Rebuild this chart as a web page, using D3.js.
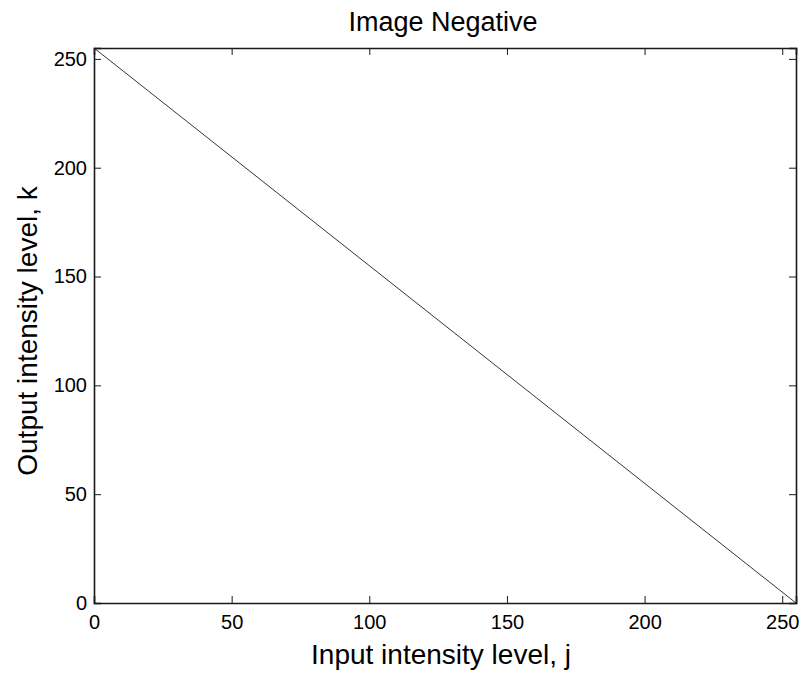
<!DOCTYPE html>
<html><head><meta charset="utf-8">
<script src="https://cdn.jsdelivr.net/npm/d3@7"></script>
<style>body{margin:0;background:#fff}svg{display:block}text{font-family:"Liberation Sans",Arial,sans-serif;fill:#000}</style>
</head><body>
<svg id="c" width="803" height="673"></svg>
<script>
const inputLevels = [0, 255];
const outputLevels = [255, 0];
const xTicks = [0, 50, 100, 150, 200, 250];
const yTicks = [0, 50, 100, 150, 200, 250];
const titleText = "Image Negative";
const xLabel = "Input intensity level, j";
const yLabel = "Output intensity level, k";

const svg = d3.select("#c");
const m = {l: 94, r: 796, t: 48, b: 603};
const x = d3.scaleLinear().domain([0, 255]).range([m.l, m.r]);
const y = d3.scaleLinear().domain([0, 255]).range([m.b, m.t]);
const tk = 7;

// line
const pts = inputLevels.map((v, i) => [v, outputLevels[i]]);
svg.append("path").datum(pts)
  .attr("d", d3.line().x(d => x(d[0])).y(d => y(d[1])))
  .attr("fill", "none").attr("stroke", "#000").attr("stroke-width", 0.8);

// axes
const ax = d3.axisBottom(x).tickValues(xTicks).tickSize(-tk).tickPadding(12);
const gx = svg.append("g").attr("transform", `translate(0,${m.b})`).call(ax);
const axT = d3.axisTop(x).tickValues(xTicks).tickSize(-tk).tickFormat("");
const gxt = svg.append("g").attr("transform", `translate(0,${m.t})`).call(axT);
const ay = d3.axisLeft(y).tickValues(yTicks).tickSize(-tk).tickPadding(7);
const gy = svg.append("g").attr("transform", `translate(${m.l},0)`).call(ay);
const ayR = d3.axisRight(y).tickValues(yTicks).tickSize(-tk).tickFormat("");
const gyr = svg.append("g").attr("transform", `translate(${m.r},0)`).call(ayR);
[gx, gxt, gy, gyr].forEach(g => {
  g.select(".domain").attr("stroke", "#1a1a1a").attr("stroke-width", 1.6);
  g.selectAll(".tick line").attr("stroke", "#1a1a1a").attr("stroke-width", 1);
  g.selectAll("text").attr("font-size", 20).attr("font-family", "Liberation Sans, Arial, sans-serif").attr("fill", "#000");
});
gx.selectAll("text").attr("dy", "0.72em");

// labels
svg.append("text").attr("x", 443).attr("y", 31).attr("text-anchor", "middle")
  .attr("font-size", 27).text(titleText);
svg.append("text").attr("x", 441).attr("y", 664).attr("text-anchor", "middle")
  .attr("font-size", 28).text(xLabel);
svg.append("text").attr("transform", `translate(37,331) rotate(-90)`)
  .attr("text-anchor", "middle").attr("font-size", 28).text(yLabel);
</script>
</body></html>
